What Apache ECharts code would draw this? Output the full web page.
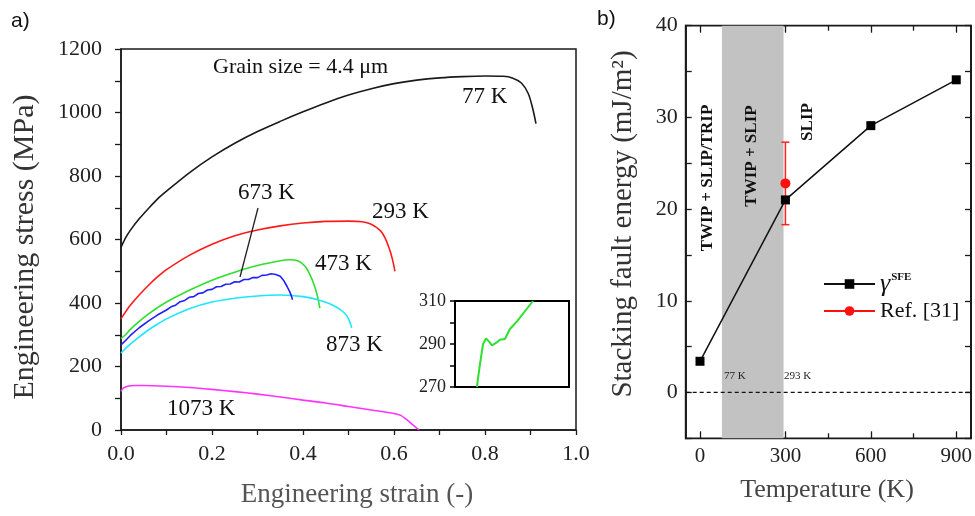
<!DOCTYPE html>
<html><head><meta charset="utf-8">
<script src="https://cdn.jsdelivr.net/npm/echarts@6/dist/echarts.min.js"></script>
<style>html,body{margin:0;padding:0;background:#fff}#c{width:975px;height:516px}</style>
</head><body><div id="c"></div>
<script>
// ---------- Panel a) data: engineering strain (-) vs engineering stress (MPa)
const strain77 = [0,0.01,0.02,0.04,0.06,0.08,0.1,0.15,0.2,0.25,0.3,0.35,0.4,0.45,0.5,0.55,0.6,0.65,0.7,0.75,0.8,0.84,0.86,0.88,0.895,0.905,0.912];
const stress77 = [575,605,628,665,697,727,752,810,860,903,940,972,1002,1030,1055,1075,1091,1102,1109,1113,1115,1114,1109,1093,1060,1012,965];
const strain293 = [0,0.01,0.02,0.04,0.06,0.08,0.1,0.15,0.2,0.25,0.3,0.35,0.4,0.45,0.5,0.53,0.55,0.57,0.58,0.59,0.597,0.602];
const stress293 = [350,372,392,425,455,482,505,550,585,612,630,643,652,657,658,656,648,628,606,570,535,500];
const strain473 = [0,0.01,0.02,0.04,0.06,0.08,0.1,0.15,0.2,0.25,0.3,0.35,0.37,0.39,0.405,0.415,0.425,0.432,0.437];
const stress473 = [288,300,316,342,365,385,403,440,472,497,518,533,536,532,515,490,455,420,384];
const strain673 = [0,0.01,0.02,0.04,0.06,0.08,0.1,0.11,0.12,0.13,0.14,0.15,0.16,0.17,0.18,0.19,0.2,0.21,0.22,0.23,0.24,0.25,0.26,0.27,0.28,0.29,0.3,0.31,0.32,0.33,0.34,0.35,0.358,0.365,0.371,0.375,0.377];
const stress673 = [268,282,297,322,343,362,378,388,393,404,408,418,420,430,432,441,443,451,452,459,460,467,466,474,474,480,480,487,488,492,490,484,470,452,435,420,410];
const strain873 = [0,0.01,0.02,0.04,0.06,0.08,0.1,0.15,0.2,0.25,0.3,0.35,0.4,0.44,0.47,0.49,0.5,0.507];
const stress873 = [242,257,270,293,315,333,350,382,403,415,422,425,420,407,390,370,350,322];
const strain1073 = [0,0.005,0.015,0.03,0.05,0.1,0.15,0.2,0.25,0.3,0.35,0.4,0.45,0.5,0.55,0.6,0.615,0.63,0.64,0.65,0.655];
const stress1073 = [122,132,138,140,140,138,134,128,121,113,104,94,85,74,63,52,46,30,18,6,0];
// inset (473 K, upper yield region)
const insetStrain = [0.0096,0.0110,0.0123,0.0136,0.0150,0.0162,0.0180,0.0197,0.0219,0.0241,0.0272,0.0305,0.0342];
const insetStress = [270,281,290,292.6,291,289.4,290.5,292,292.3,297,300.5,305,310];

// ---------- Panel b) data
const tempK = [0,300,600,900];
const sfe = [3.4,21.0,29.1,34.1];
const refTemp = [300];
const refSfe = [22.8];
const refErrLow = [18.3];
const refErrHigh = [27.3];
const bandFrom = 77, bandTo = 293;

const zip = (a,b) => a.map((v,i)=>[v,b[i]]);
const SERIF = 'Liberation Serif';
const AX = '#1a1a1a';

const chart = echarts.init(document.getElementById('c'), null, {renderer:'canvas'});

function lineSeries(name, xs, ys, color, smooth){
  return {name, type:'line', xAxisIndex:0, yAxisIndex:0, data: zip(xs,ys), showSymbol:false, symbol:'none',
    smooth: smooth, lineStyle:{color, width:1.6}, itemStyle:{color}, z:3, silent:true};
}

const option = {
  animation:false,
  backgroundColor:'#fff',
  grid:[
    {left:121, top:49, width:455, height:381, show:true, borderColor:AX, borderWidth:1.5},
    {left:455, top:301, width:114, height:86, show:true, borderColor:'#000', borderWidth:2, backgroundColor:'#fff', z:5},
    {left:685.7, top:25.7, width:285.3, height:412.6, show:true, borderColor:AX, borderWidth:1.8},
    {left:700, top:25.7, width:257.3, height:412.6}
  ],
  xAxis:[
    {gridIndex:0, type:'value', min:0, max:1, interval:0.1,
      axisLine:{onZero:false,lineStyle:{color:AX,width:1.5}}, axisTick:{inside:false,length:5,lineStyle:{color:AX,width:1.3}},
      splitLine:{show:false},
      axisLabel:{margin:13, color:'#222', fontFamily:SERIF, fontSize:22,
        formatter:v=>Math.round(v*10)%2===0? v.toFixed(1):''}},
    {gridIndex:1, type:'value', min:0, max:0.05, show:false},
    {gridIndex:2, type:'value', min:-50, max:950, show:false, axisLine:{onZero:false}},
    {gridIndex:3, type:'value', min:0, max:900, interval:300, position:'bottom',
      axisLine:{show:false,onZero:false}, splitLine:{show:false},
      axisTick:{inside:true,length:7,lineStyle:{color:AX,width:1.3}},
      minorTick:{show:true,splitNumber:2,length:5,lineStyle:{color:AX,width:1.3}},
      axisLabel:{margin:8,color:'#222',fontFamily:SERIF,fontSize:21}},
    {gridIndex:3, type:'value', min:0, max:900, interval:300, position:'top',
      axisLine:{show:false,onZero:false}, splitLine:{show:false}, axisLabel:{show:false},
      axisTick:{inside:true,length:7,lineStyle:{color:AX,width:1.3}},
      minorTick:{show:true,splitNumber:2,length:5,lineStyle:{color:AX,width:1.3}}}
  ],
  yAxis:[
    {gridIndex:0, type:'value', min:0, max:1200, interval:100,
      axisLine:{show:true,onZero:false,lineStyle:{color:AX,width:1.5}}, axisTick:{show:true,inside:false,length:6,lineStyle:{color:AX,width:1.3}},
      splitLine:{show:false},
      axisLabel:{margin:19,color:'#222',fontFamily:SERIF,fontSize:22, formatter:v=>v%200===0? String(v):''}},
    {gridIndex:1, type:'value', min:270, max:310, interval:10,
      axisLine:{show:true,onZero:false,lineStyle:{color:'#000',width:2}}, axisTick:{show:true,inside:false,length:5,lineStyle:{color:'#000',width:1.5}},
      splitLine:{show:false},
      axisLabel:{margin:9,color:'#222',fontFamily:SERIF,fontSize:18, formatter:v=>(v-270)%20===0? String(v):''}},
    {gridIndex:2, type:'value', min:-5, max:40, interval:5,
      axisLine:{show:true,onZero:false,lineStyle:{color:AX,width:1.8}}, axisTick:{show:true,inside:true,length:6,lineStyle:{color:AX,width:1.3}},
      splitLine:{show:false},
      axisLabel:{margin:8,color:'#222',fontFamily:SERIF,fontSize:22, formatter:v=>v%10===0? String(v):''}},
    {gridIndex:2, type:'value', min:-5, max:40, interval:5, position:'right',
      axisLine:{show:true,onZero:false,lineStyle:{color:AX,width:1.8}}, axisTick:{show:true,inside:true,length:6,lineStyle:{color:AX,width:1.3}},
      splitLine:{show:false}, axisLabel:{show:false}},
    {gridIndex:3, type:'value', min:-5, max:40, show:false, axisLine:{onZero:false}}
  ],
  legend:{
    orient:'vertical', left:818, top:266, itemWidth:51, itemHeight:12, itemGap:3,
    data:['γSFE','Ref. [31]'],
    formatter: n => n==='γSFE' ? '{g|γ}{s|SFE}' : '{r|'+n+'}',
    textStyle:{fontFamily:SERIF, color:'#111',
      rich:{
        g:{fontFamily:SERIF, fontStyle:'italic', fontSize:26, lineHeight:24, color:'#111'},
        s:{fontFamily:SERIF, fontWeight:'bold', fontSize:11, lineHeight:24, verticalAlign:'top', padding:[0,0,12,1], color:'#111'},
        r:{fontFamily:SERIF, fontSize:22, lineHeight:24, color:'#111'}
      }}
  },
  series:[
    lineSeries('77 K', strain77, stress77, '#1a1a1a', 0.3),
    lineSeries('293 K', strain293, stress293, '#ff1a1a', 0.3),
    lineSeries('473 K', strain473, stress473, '#2ee02e', 0.3),
    lineSeries('873 K', strain873, stress873, '#1ee6ff', 0.3),
    lineSeries('673 K', strain673, stress673, '#1f1fff', false),
    lineSeries('1073 K', strain1073, stress1073, '#ff33ff', 0.3),
    {name:'inset', type:'line', xAxisIndex:1, yAxisIndex:1, data:zip(insetStrain,insetStress), symbol:'none',
      lineStyle:{color:'#2ee02e',width:2}, z:6, silent:true},
    {name:'zero', type:'line', xAxisIndex:2, yAxisIndex:2, data:[[-50,0],[950,0]], symbol:'none', silent:true,
      lineStyle:{color:'#111',width:1.3,type:[4,3]}, z:2,
      markArea:{silent:true, itemStyle:{color:'#c2c2c2'}, data:[[{xAxis:bandFrom},{xAxis:bandTo}]]}},
    {name:'err', type:'custom', xAxisIndex:3, yAxisIndex:4, z:4, silent:true,
      data: refTemp.map((t,i)=>[t, refErrLow[i], refErrHigh[i]]),
      encode:{x:0, y:[1,2]},
      renderItem:(params, api)=>{
        const x=api.value(0), lo=api.value(1), hi=api.value(2);
        const a=api.coord([x,lo]), b=api.coord([x,hi]);
        const st={stroke:'#ff2020', lineWidth:1.5};
        return {type:'group', children:[
          {type:'line', shape:{x1:a[0],y1:a[1],x2:b[0],y2:b[1]}, style:st},
          {type:'line', shape:{x1:a[0]-4,y1:a[1],x2:a[0]+4,y2:a[1]}, style:st},
          {type:'line', shape:{x1:b[0]-4,y1:b[1],x2:b[0]+4,y2:b[1]}, style:st}
        ]};
      }},
    {name:'γSFE', type:'line', xAxisIndex:3, yAxisIndex:4, data:zip(tempK,sfe), symbol:'rect', symbolSize:9,
      itemStyle:{color:'#000'}, lineStyle:{color:'#111',width:1.5}, z:5, silent:true},
    {name:'Ref. [31]', type:'line', xAxisIndex:3, yAxisIndex:4, data:zip(refTemp,refSfe), symbol:'circle', symbolSize:10,
      itemStyle:{color:'#ff1010'}, lineStyle:{color:'#ff1010',width:1.5}, z:6, silent:true}
  ],
  graphic:[
    {type:'text', x:11, y:21, style:{text:'a)', fontFamily:'Liberation Sans', fontSize:21, fill:'#111', verticalAlign:'middle'}},
    {type:'text', x:597, y:19, style:{text:'b)', fontFamily:'Liberation Sans', fontSize:21, fill:'#111', verticalAlign:'middle'}},
    // panel a titles
    {type:'text', x:25, y:247, rotation:Math.PI/2, style:{text:'Engineering stress (MPa)', fontFamily:SERIF, fontSize:30, fill:'#333', align:'center', verticalAlign:'middle'}},
    {type:'text', x:357, y:495, style:{text:'Engineering strain (-)', fontFamily:SERIF, fontSize:27, fill:'#555', align:'center', verticalAlign:'middle'}},
    // panel a annotations
    {type:'text', x:213, y:67, style:{text:'Grain size = 4.4 μm', fontFamily:SERIF, fontSize:22, fill:'#111', verticalAlign:'middle'}},
    {type:'text', x:462, y:97, style:{text:'77 K', fontFamily:SERIF, fontSize:23, fill:'#111', verticalAlign:'middle'}},
    {type:'text', x:238, y:193, style:{text:'673 K', fontFamily:SERIF, fontSize:23, fill:'#111', verticalAlign:'middle'}},
    {type:'text', x:372, y:212, style:{text:'293 K', fontFamily:SERIF, fontSize:23, fill:'#111', verticalAlign:'middle'}},
    {type:'text', x:315, y:264, style:{text:'473 K', fontFamily:SERIF, fontSize:23, fill:'#111', verticalAlign:'middle'}},
    {type:'text', x:326, y:345, style:{text:'873 K', fontFamily:SERIF, fontSize:23, fill:'#111', verticalAlign:'middle'}},
    {type:'text', x:167, y:409, style:{text:'1073 K', fontFamily:SERIF, fontSize:23, fill:'#111', verticalAlign:'middle'}},
    {type:'line', shape:{x1:258,y1:208,x2:240,y2:277}, style:{stroke:'#222', lineWidth:1.3}, z:10},
    // panel b titles
    {type:'text', x:623, y:224, rotation:Math.PI/2, style:{text:'Stacking fault energy (mJ/m²)', fontFamily:SERIF, fontSize:29, fill:'#333', align:'center', verticalAlign:'middle'}},
    {type:'text', x:827, y:490, style:{text:'Temperature (K)', fontFamily:SERIF, fontSize:26, fill:'#444', align:'center', verticalAlign:'middle'}},
    // panel b annotations
    {type:'text', x:708, y:178, rotation:Math.PI/2, z:10, style:{text:'TWIP + SLIP/TRIP', fontFamily:SERIF, fontWeight:'bold', fontSize:17, fill:'#111', align:'center', verticalAlign:'middle'}},
    {type:'text', x:752, y:156, rotation:Math.PI/2, z:10, style:{text:'TWIP + SLIP', fontFamily:SERIF, fontWeight:'bold', fontSize:17, fill:'#111', align:'center', verticalAlign:'middle'}},
    {type:'text', x:808, y:122, rotation:Math.PI/2, z:10, style:{text:'SLIP', fontFamily:SERIF, fontWeight:'bold', fontSize:17, fill:'#111', align:'center', verticalAlign:'middle'}},
    {type:'text', x:724, y:376, z:10, style:{text:'77 K', fontFamily:SERIF, fontSize:11, fill:'#222', verticalAlign:'middle'}},
    {type:'text', x:784, y:376, z:10, style:{text:'293 K', fontFamily:SERIF, fontSize:11, fill:'#222', verticalAlign:'middle'}}
  ]
};
chart.setOption(option);
</script>
</body></html>
